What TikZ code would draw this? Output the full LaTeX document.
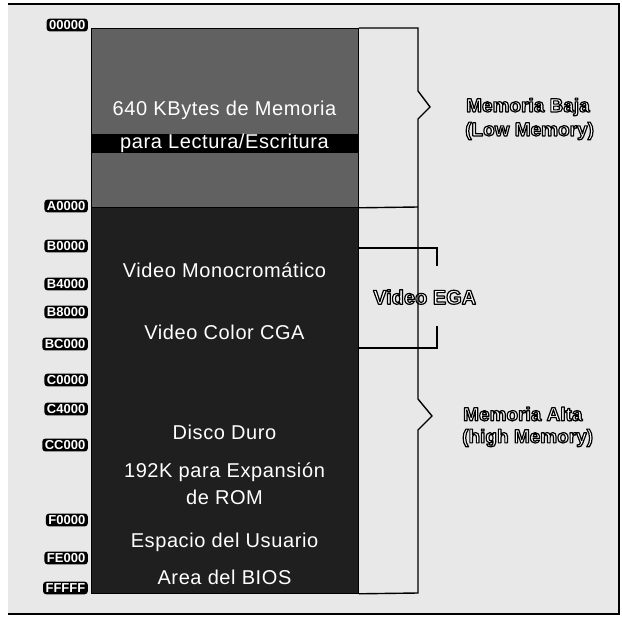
\documentclass[tikz,border=0pt]{standalone}
\usepackage{fontspec}
\setmainfont{Liberation Sans}
\newfontfamily\colfont[LetterSpace=3]{Liberation Sans}
\newcommand\halo[2][1.2]{{\color{white}\special{pdf:literal direct 2 Tr #1 w 1 j 0 G}#2\special{pdf:literal direct 0 Tr 0.4 w 0 j}}}
\begin{document}
\begin{tikzpicture}[x=1pt,y=-1pt,
  addr/.style={font=\fontsize{13}{13}\selectfont\bfseries, text=white, fill=black, rounded corners=3pt, inner xsep=2.5pt, inner ysep=1.8pt, anchor=east},
  coltext/.style={text=white, font=\colfont\fontsize{20}{20}\selectfont, inner sep=0pt},
  side/.style={font=\fontsize{19}{19}\selectfont\bfseries, inner sep=0pt, anchor=west},
  block/.style={draw=black, line width=0.8pt, inner sep=0pt, anchor=north west, minimum width=267pt},
  brk/.style={line width=1.4pt, line join=miter}]
\useasboundingbox (0,0) rectangle (622,618);
% background and frame
\fill[black!9] (8,4) rectangle (619,614);
\draw[line width=1.3pt] (8,4) -- (619,4) -- (619,614) -- (8,614);
% memory column
\node[block, fill=black!62, minimum height=179pt] (low) at (91,28) {};
\node[block, fill=black!88, minimum height=386pt] (high) at (91,207) {};
\node[fill=black, inner sep=0pt, anchor=north west, minimum width=267pt, minimum height=19pt] (band) at (91,134) {};
% column texts
\node[coltext] (t1) at (224.5,110) {640 KBytes de Memoria};
\node[coltext] (t2) at (224.5,143) {para Lectura/Escritura};
\node[coltext] (t3) at (224.5,270) {Video Monocromático};
\node[coltext] (t4) at (224.5,332) {Video Color CGA};
\node[coltext] (t5) at (224.5,432) {Disco Duro};
\node[coltext] (t6) at (224.5,472) {192K para Expansión};
\node[coltext] (t7) at (224.5,497) {de ROM};
\node[coltext] (t8) at (224.5,542) {Espacio del Usuario};
\node[coltext] (t9) at (224.5,577) {Area del BIOS};
% addresses
\node[addr] (a00) at (88,25) {00000};
\node[addr] (aA0) at (88,206) {A0000};
\node[addr] (aB0) at (88,246) {B0000};
\node[addr] (aB4) at (88,284) {B4000};
\node[addr] (aB8) at (88,312) {B8000};
\node[addr] (aBC) at (88,344) {BC000};
\node[addr] (aC0) at (88,380) {C0000};
\node[addr] (aC4) at (88,409) {C4000};
\node[addr] (aCC) at (88,445) {CC000};
\node[addr] (aF0) at (88,520) {F0000};
\node[addr] (aFE) at (88,558) {FE000};
\node[addr] (aFF) at (88,588) {FFFFF};
% side labels
\node[side] (lb1) at (466,107) {\halo{Memoria Baja}};
\node[side] (lb2) at (465,131) {\halo{(Low Memory)}};
\node[side] (ha1) at (463,414) {\halo{Memoria Alta}};
\node[side] (ha2) at (462,438) {\halo{(high Memory)}};
\node[side, font=\fontsize{20}{20}\selectfont\bfseries] (ega) at (373,297) {\halo{Video EGA}};
% bracket coordinates
\coordinate (vtop) at (418,28);
\coordinate (n1a) at (418,91);
\coordinate (n1p) at (430,107);
\coordinate (n1b) at (418,119);
\coordinate (vmid) at (418,207);
\coordinate (n2a) at (418,399);
\coordinate (n2p) at (432,416);
\coordinate (n2b) at (418,430);
\coordinate (vbot) at (418,593);
\coordinate (e1) at (358,248);
\coordinate (e1c) at (437,248);
\coordinate (e1t) at (437,266);
\coordinate (e2) at (358,348);
\coordinate (e2c) at (437,348);
\coordinate (e2t) at (437,326);
% brackets
\draw[brk] (low.north east) -- (vtop) -- (n1a) -- (n1p) -- (n1b) -- (vmid) -- (n2a) -- (n2p) -- (n2b) -- (vbot) -- (high.south east);
\draw[brk] (low.south east) -- (vmid);
\draw[brk] (e1) -- (e1c) -- (e1t);
\draw[brk] (e2) -- (e2c) -- (e2t);
\end{tikzpicture}
\end{document}
